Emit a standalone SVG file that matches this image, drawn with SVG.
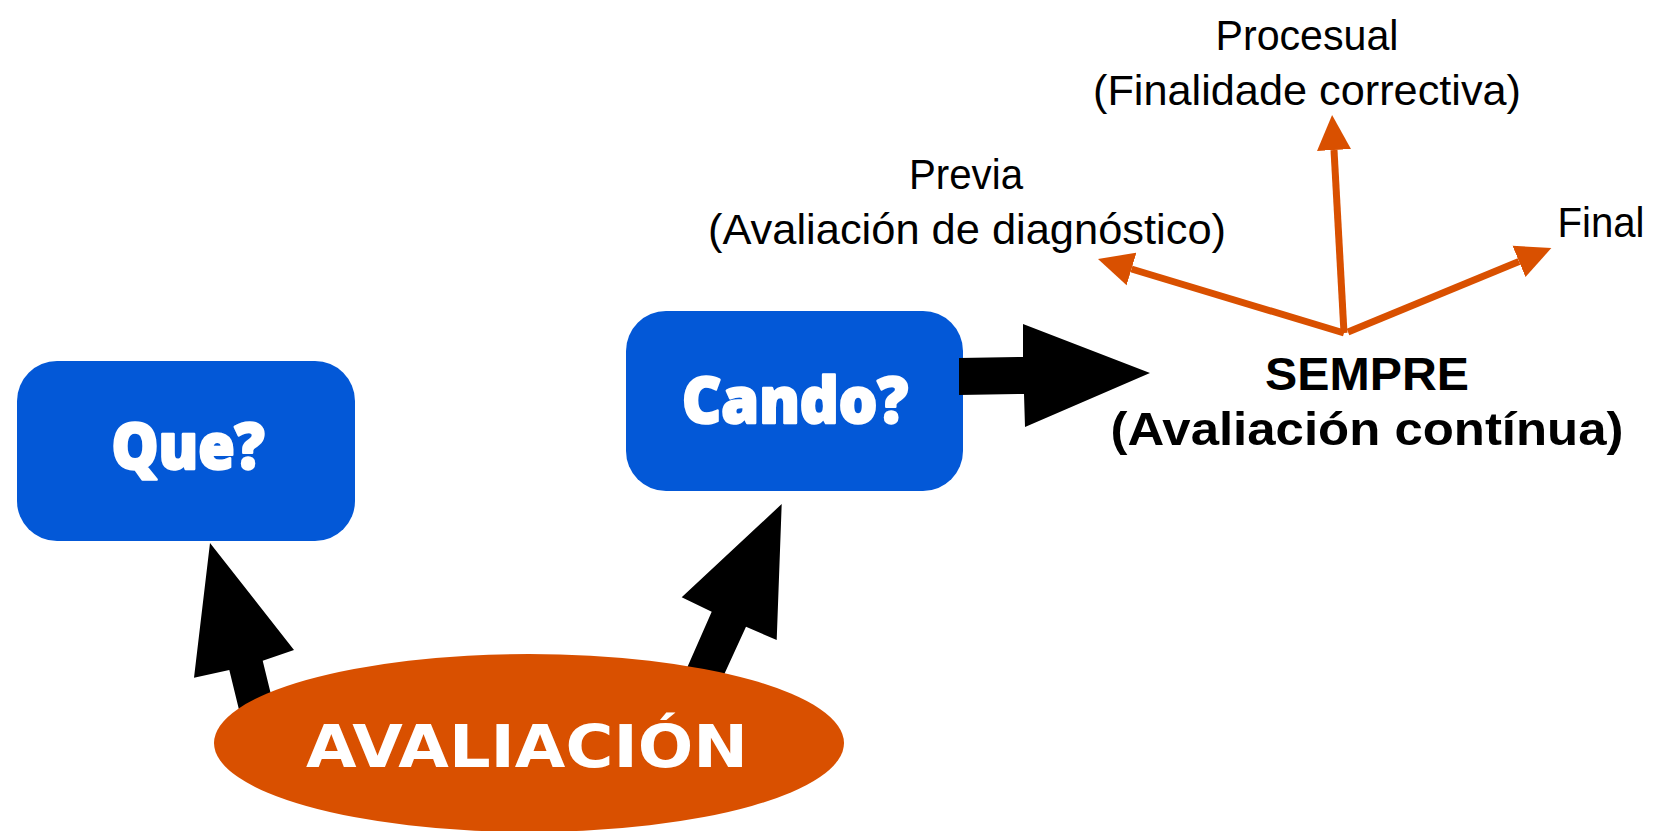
<svg xmlns="http://www.w3.org/2000/svg" width="1655" height="831" viewBox="0 0 1655 831">
<style>
.box{fill:#0358D7}
.ell{fill:#D95000}
.blk{fill:#000}
.oline{stroke:#D95000;stroke-width:7;fill:none;marker-end:url(#oh)}
.wt{fill:#fff;stroke:#fff;stroke-width:2.5;stroke-linejoin:round;font-family:"Open Sans","DejaVu Sans",sans-serif;font-weight:800;text-anchor:middle}
.av{fill:#fff;font-family:"DejaVu Sans",sans-serif;font-weight:bold;text-anchor:middle}
.lbl{fill:#000;font-family:"Liberation Sans",Arial,sans-serif;font-size:43px;text-anchor:middle}
.bld{fill:#000;font-family:"Liberation Sans",Arial,sans-serif;font-weight:bold;font-size:47px;text-anchor:middle}
</style>
<defs>
<marker id="oh" markerUnits="userSpaceOnUse" markerWidth="36" markerHeight="36" viewBox="0 -18 36 36" refX="0" refY="0" orient="auto">
<path d="M0,-17 L35,0 L0,17 Z" fill="#D95000"/>
</marker>
</defs>
<rect width="1655" height="831" fill="#fff"/>
<g id="node-que">
<rect class="box" x="17" y="361" width="338" height="180" rx="40" ry="40"/>
<text class="wt" x="188" y="469" font-size="63" textLength="153" lengthAdjust="spacingAndGlyphs">Que?</text>
</g>
<g id="node-cando">
<rect class="box" x="626" y="311" width="337" height="180" rx="40" ry="40"/>
<text class="wt" x="795" y="423" font-size="64" textLength="226" lengthAdjust="spacingAndGlyphs">Cando?</text>
</g>
<g id="connectors">
<polygon class="blk" points="210,543 294,650 262.7,660.7 276,715 242,722 229.3,670 194,677.7"/>
<polygon class="blk" points="781.7,504 776.7,640 746,626.7 717,690 679.5,685 711.7,611.7 681.7,597.3"/>
<polygon class="blk" points="959,358 1023,357 1023,324 1150,373 1025,427 1024,394 959,395"/>
<line class="oline" x1="1344" y1="333" x2="1334" y2="150"/>
<line class="oline" x1="1344" y1="333" x2="1131.5" y2="269"/>
<line class="oline" x1="1348" y1="332" x2="1519" y2="261.4"/>
</g>
<g id="node-avaliacion">
<ellipse class="ell" cx="529" cy="743" rx="315" ry="89"/>
<text class="av" x="527" y="767" font-size="59" textLength="442" lengthAdjust="spacingAndGlyphs">AVALIACIÓN</text>
</g>
<g id="node-sempre">
<text class="bld" x="1367" y="390" textLength="204" lengthAdjust="spacingAndGlyphs">SEMPRE</text>
<text class="bld" x="1367" y="445" textLength="513" lengthAdjust="spacingAndGlyphs">(Avaliación contínua)</text>
</g>
<g id="node-procesual">
<text class="lbl" x="1307" y="50" textLength="183" lengthAdjust="spacingAndGlyphs">Procesual</text>
<text class="lbl" x="1307" y="105" textLength="428" lengthAdjust="spacingAndGlyphs">(Finalidade correctiva)</text>
</g>
<g id="node-previa">
<text class="lbl" x="966" y="189" textLength="114" lengthAdjust="spacingAndGlyphs">Previa</text>
<text class="lbl" x="967" y="244" textLength="518" lengthAdjust="spacingAndGlyphs">(Avaliación de diagnóstico)</text>
</g>
<g id="node-final">
<text class="lbl" x="1601" y="237" textLength="87" lengthAdjust="spacingAndGlyphs">Final</text>
</g>
</svg>
